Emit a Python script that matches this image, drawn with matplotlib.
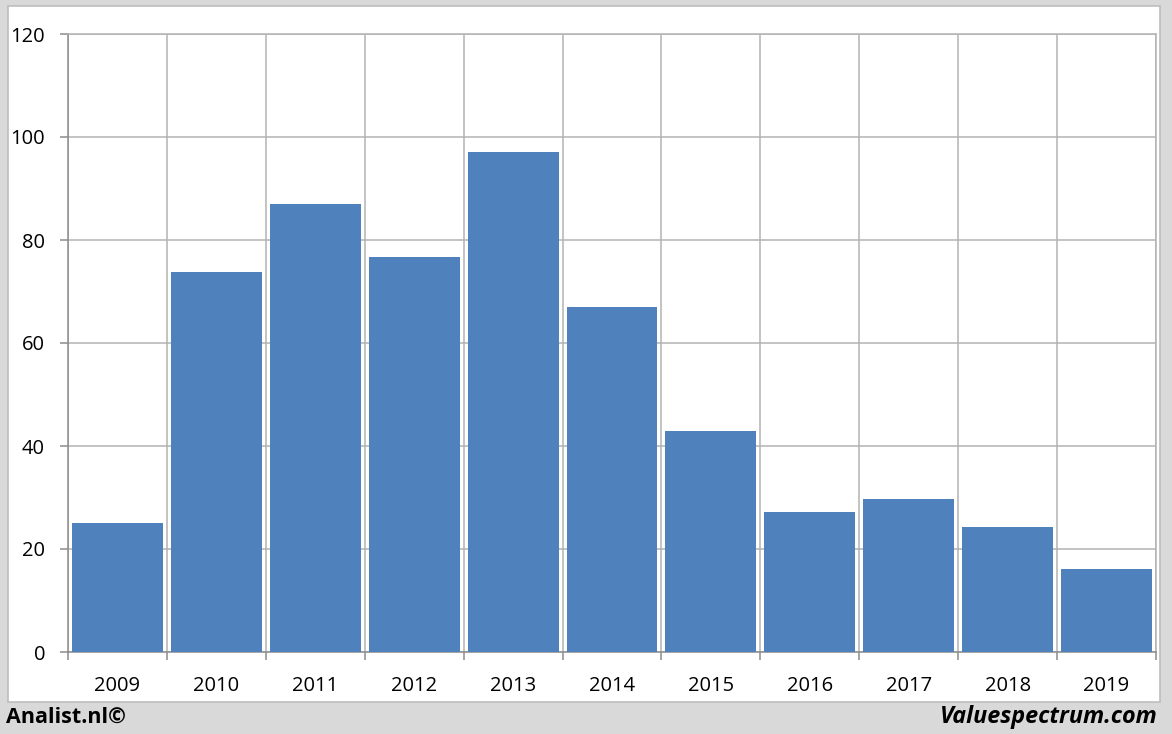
import numpy as np
import matplotlib
matplotlib.use('Agg')
from matplotlib import pyplot as plt
from matplotlib.patches import Rectangle

years = ['2009', '2010', '2011', '2012', '2013', '2014', '2015', '2016', '2017', '2018', '2019']
values = [25.0, 73.8, 87.0, 76.7, 97.1, 67.0, 42.9, 27.2, 29.7, 24.3, 16.1]

plt.rcParams['font.family'] = ['Open Sans', 'DejaVu Sans']

fig = plt.figure(figsize=(11.72, 7.34), dpi=100)
fig.patch.set_facecolor('#d9d9d9')

# white chart panel
W, H = 1172, 734
fig.patches.append(Rectangle((8 / W, 1 - 702 / H), 1152 / W, 696 / H,
                             transform=fig.transFigure, facecolor='white',
                             edgecolor='#bdbdbd', linewidth=1.2, zorder=-10))

ax = fig.add_axes([68 / W, 1 - 652 / H, 1088 / W, 618 / H])
ax.set_facecolor('none')

x = np.arange(len(years))
ax.bar(x, values, width=0.92, color='#4f81bd', zorder=3)

ax.set_xlim(-0.5, len(years) - 0.5)
ax.set_ylim(0, 120)
ax.set_yticks(np.arange(0, 121, 20))
ax.set_xticks(x)
ax.set_xticklabels(years)
ax.set_xticks(np.arange(-0.5, len(years)), minor=True)

grid_c = '#b3b3b3'
ax.grid(axis='y', color=grid_c, linewidth=1.1, zorder=1)
ax.grid(axis='x', which='minor', color=grid_c, linewidth=1.1, zorder=1)
ax.tick_params(axis='x', which='major', length=0, labelsize=14.5, pad=17)
ax.tick_params(axis='x', which='minor', length=6, color='#8c8c8c', width=1.1)
ax.tick_params(axis='y', length=6, color='#8c8c8c', width=1.1, labelsize=14.5, pad=10.5)
for s in ax.spines.values():
    s.set_color(grid_c)
    s.set_linewidth(1.1)
ax.spines['left'].set_color('#8c8c8c')
ax.spines['bottom'].set_color('#8c8c8c')

fig.text(6 / W, 1 - 717 / H, 'Analist.nl©', fontsize=15.5, fontweight='bold',
         va='center', ha='left')
fig.text(1158 / W, 1 - 717 / H, 'Valuespectrum.com', fontsize=16.8, fontweight='bold',
         style='italic', va='center', ha='right')

fig.savefig('out.png', dpi=100, facecolor=fig.get_facecolor())
